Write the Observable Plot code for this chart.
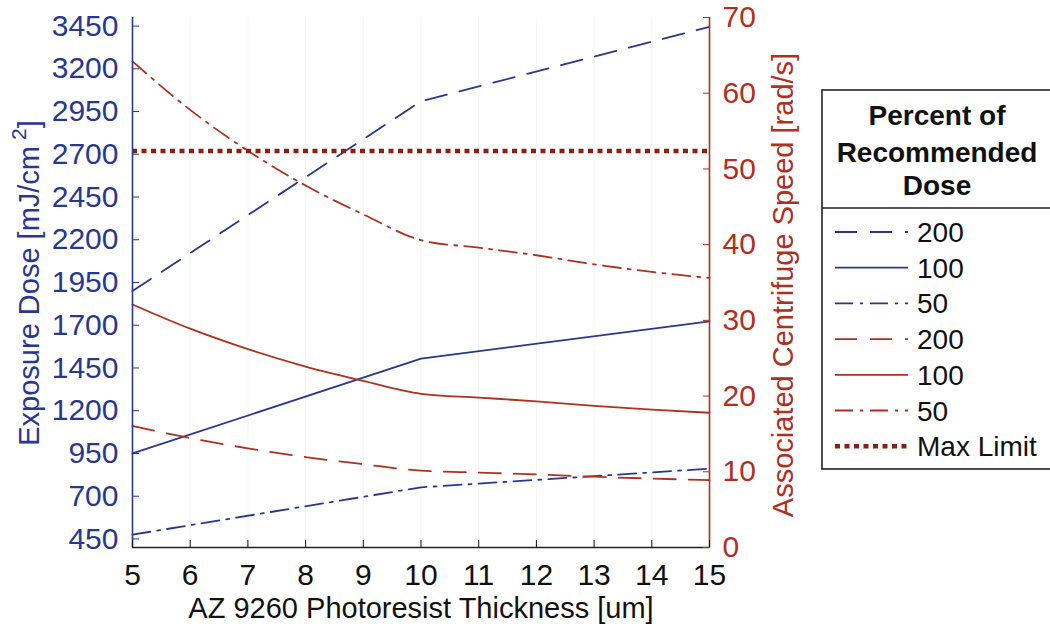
<!DOCTYPE html>
<html><head><meta charset="utf-8">
<script src="https://cdn.jsdelivr.net/npm/d3@7"></script>
<script src="https://cdn.jsdelivr.net/npm/@observablehq/plot@0.6"></script>
<style>
body{margin:0;background:#fff;}
#chart{position:relative;width:1050px;height:633px;overflow:hidden;}
</style>
</head><body><div id="chart"></div>
<script>
// ---- data ----
const thicknessCoarse = [5, 10, 15];
const dose200 = [1900, 3010, 3445];
const dose100 = [950, 1505, 1722];
const dose50 = [475, 752, 861];
const thicknessFine = [5, 6, 7, 8, 9, 10, 11, 12, 13, 14, 15];
const speed200 = [16.05, 14.45, 13.1, 11.95, 11.0, 10.15, 9.9, 9.65, 9.35, 9.1, 8.9];
const speed100 = [32.1, 28.9, 26.2, 23.9, 22.0, 20.3, 19.8, 19.3, 18.7, 18.2, 17.8];
const speed50 = [64.2, 57.8, 52.4, 47.8, 44.0, 40.6, 39.6, 38.6, 37.4, 36.4, 35.6];
const maxLimit = [52.36];
const xTicks = [5, 6, 7, 8, 9, 10, 11, 12, 13, 14, 15];
const doseTicks = [450, 700, 950, 1200, 1450, 1700, 1950, 2200, 2450, 2700, 2950, 3200, 3450];
const speedTicks = [0, 10, 20, 30, 40, 50, 60, 70];
const legendTitle = ["Percent of", "Recommended", "Dose"];
const legendLabels = ["200", "100", "50", "200", "100", "50", "Max Limit"];
const xLabel = "AZ 9260 Photoresist Thickness [um]";
const yLabelLeft = "Exposure Dose [mJ/cm";
const yLabelRight = "Associated Centrifuge Speed [rad/s]";

// ---- styles ----
const BLUE = "#2a3791";
const RED = "#b0301f";
const DARKRED = "#8a1f14";
const FONT = "'Liberation Sans', Arial, Helvetica, sans-serif";
const DASH = "22,13";
const DASHDOT = "18,7,3,7";
const DOT = "5,4.5";

const doseDomain = [400, 3500];
const speedDomain = [0, 70];
const speedToDose = d3.scaleLinear(speedDomain, doseDomain);

const coarse = (vals) => thicknessCoarse.map((x, i) => ({x, y: vals[i]}));
const fine = (vals) => thicknessFine.map((x, i) => ({x, y: speedToDose(vals[i])}));

const chart = Plot.plot({
  width: 1050,
  height: 633,
  marginLeft: 132,
  marginRight: 341,
  marginTop: 17,
  marginBottom: 86,
  style: {fontFamily: FONT, background: "#fff", overflow: "visible"},
  x: {domain: [5, 15]},
  y: {domain: doseDomain},
  marks: [
    Plot.ruleX(xTicks, {stroke: "#f5f5f5", strokeWidth: 1}),
    Plot.line(coarse(dose200), {x: "x", y: "y", stroke: BLUE, strokeWidth: 1.8, strokeDasharray: DASH}),
    Plot.line(coarse(dose100), {x: "x", y: "y", stroke: BLUE, strokeWidth: 1.8}),
    Plot.line(coarse(dose50), {x: "x", y: "y", stroke: BLUE, strokeWidth: 1.8, strokeDasharray: DASHDOT}),
    Plot.line(fine(speed200), {x: "x", y: "y", stroke: RED, strokeWidth: 1.8, strokeDasharray: DASH, curve: "monotone-x"}),
    Plot.line(fine(speed100), {x: "x", y: "y", stroke: RED, strokeWidth: 1.8, curve: "monotone-x"}),
    Plot.line(fine(speed50), {x: "x", y: "y", stroke: RED, strokeWidth: 1.8, strokeDasharray: DASHDOT, curve: "monotone-x"}),
    Plot.ruleY(maxLimit, {y: d => speedToDose(d), stroke: DARKRED, strokeWidth: 4.5, strokeDasharray: DOT}),
    Plot.ruleX([5], {stroke: BLUE, strokeWidth: 1.6}),
    Plot.ruleX([15], {stroke: RED, strokeWidth: 1.6}),
    Plot.ruleY([doseDomain[0]], {stroke: "#222", strokeWidth: 1.6}),
    Plot.axisY(doseTicks, {anchor: "left", tickSize: -7, tickPadding: 21, color: BLUE, fontSize: 30, label: null, tickFormat: d => String(d)}),
    Plot.axisY(speedTicks, {anchor: "right", y: d => speedToDose(d), tickSize: -7, tickPadding: 20, color: RED, fontSize: 30, label: null, tickFormat: d => String(d)}),
    Plot.axisX(xTicks, {anchor: "bottom", tickSize: -7, tickPadding: 23, color: "#111", fontSize: 30, label: null, tickFormat: d => String(d)})
  ]
});

document.getElementById("chart").appendChild(chart);
const svg = d3.select(chart);

// axis titles
svg.append("text")
  .attr("transform", "translate(421,618)")
  .attr("text-anchor", "middle")
  .attr("font-family", FONT).attr("font-size", 29).attr("fill", "#111")
  .text(xLabel);

const lt = svg.append("text")
  .attr("transform", "translate(39,283) rotate(-90)")
  .attr("text-anchor", "middle")
  .attr("font-family", FONT).attr("font-size", 29).attr("fill", BLUE);
lt.append("tspan").text(yLabelLeft);
lt.append("tspan").attr("dx", 6).attr("dy", -13).attr("font-size", 21).text("2");
lt.append("tspan").attr("dy", 13).text("]");

svg.append("text")
  .attr("transform", "translate(793,285) rotate(-90)")
  .attr("text-anchor", "middle")
  .attr("font-family", FONT).attr("font-size", 29).attr("fill", RED)
  .text(yLabelRight);

// legend
const lg = svg.append("g").attr("font-family", FONT).attr("text-anchor", "start");
lg.append("rect").attr("x", 822).attr("y", 90).attr("width", 260).attr("height", 379)
  .attr("fill", "#fff").attr("stroke", "#222").attr("stroke-width", 1.6);
lg.append("line").attr("x1", 822).attr("x2", 1060).attr("y1", 208).attr("y2", 208)
  .attr("stroke", "#222").attr("stroke-width", 1.6);
const titleBase = [125, 162, 195];
legendTitle.forEach((t, i) => {
  lg.append("text").attr("x", 937).attr("y", titleBase[i]).attr("text-anchor", "middle")
    .attr("font-weight", "bold").attr("font-size", 28).attr("fill", "#111").text(t);
});
const entryStyle = [
  {stroke: BLUE, dash: DASH, w: 1.8},
  {stroke: BLUE, dash: null, w: 1.8},
  {stroke: BLUE, dash: DASHDOT, w: 1.8},
  {stroke: RED, dash: DASH, w: 1.8},
  {stroke: RED, dash: null, w: 1.8},
  {stroke: RED, dash: DASHDOT, w: 1.8},
  {stroke: DARKRED, dash: DOT, w: 4.5}
];
legendLabels.forEach((lab, i) => {
  const cy = 232 + i * 35.7;
  const s = entryStyle[i];
  const ln = lg.append("line").attr("x1", 835).attr("x2", 908).attr("y1", cy).attr("y2", cy)
    .attr("stroke", s.stroke).attr("stroke-width", s.w);
  if (s.dash) ln.attr("stroke-dasharray", s.dash);
  lg.append("text").attr("x", 917).attr("y", cy + 10).attr("text-anchor", "start")
    .attr("font-size", 28).attr("fill", "#111").text(lab);
});
</script>
</body></html>
